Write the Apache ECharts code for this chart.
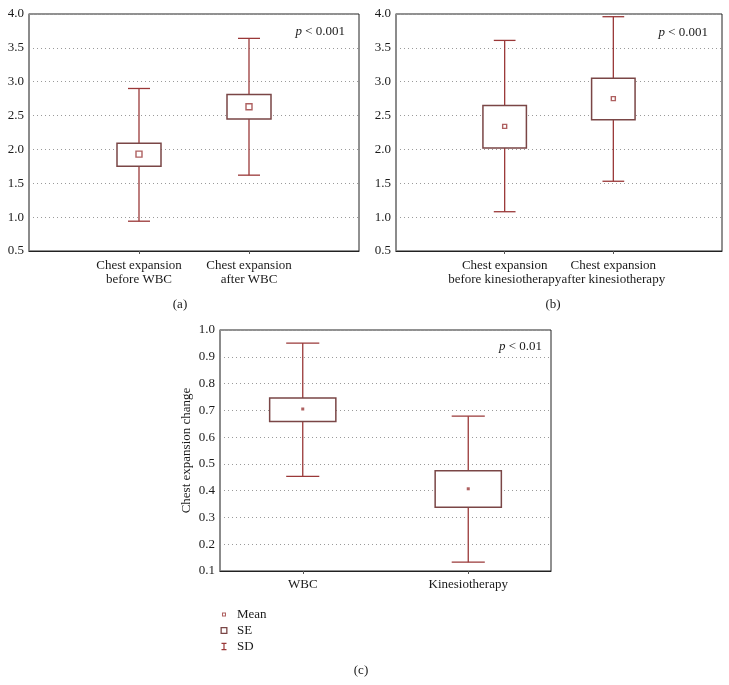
<!DOCTYPE html>
<html>
<head>
<meta charset="utf-8">
<script src="https://cdn.jsdelivr.net/npm/echarts@6/dist/echarts.min.js"></script>
<style>
html,body{margin:0;padding:0;background:#fff;}
#chart{width:729px;height:685px;}
</style>
</head>
<body>
<div id="chart"></div>
<script>
// ---- Data ----
const catsA = ['Chest expansion\nbefore WBC', 'Chest expansion\nafter WBC'];
const meanA = [1.93, 2.63];
const seLowA = [1.75, 2.45];
const seHighA = [2.09, 2.81];
const sdLowA = [0.94, 1.62];
const sdHighA = [2.90, 3.64];

const catsB = ['Chest expansion\nbefore kinesiotherapy', 'Chest expansion\nafter kinesiotherapy'];
const meanB = [2.34, 2.75];
const seLowB = [2.02, 2.44];
const seHighB = [2.65, 3.05];
const sdLowB = [1.08, 1.53];
const sdHighB = [3.61, 3.96];

const catsC = ['WBC', 'Kinesiotherapy'];
const meanC = [0.705, 0.407];
const seLowC = [0.658, 0.338];
const seHighC = [0.746, 0.474];
const sdLowC = [0.453, 0.133];
const sdHighC = [0.951, 0.678];

const yTicksAB = [0.5, 1.0, 1.5, 2.0, 2.5, 3.0, 3.5, 4.0];
const yTicksC = [0.1, 0.2, 0.3, 0.4, 0.5, 0.6, 0.7, 0.8, 0.9, 1.0];

const pTexts = ['p < 0.001', 'p < 0.001', 'p < 0.01'];
const panelLabels = ['(a)', '(b)', '(c)'];
const yNameC = 'Chest expansion change';
const legendNames = ['Mean', 'SE', 'SD'];

// ---- Styles ----
const FONT = '"Liberation Serif", "DejaVu Serif", serif';
const WHISK = '#9a3838';
const BOXC = '#7a4646';
const TXT = '#1a1a1a';

function zip(cats, a, b) { return cats.map((c, i) => [c, a[i], b[i]]); }

function renderSD(params, api) {
  const lo = api.coord([api.value(0), api.value(1)]);
  const hi = api.coord([api.value(0), api.value(2)]);
  const w = api.size([1, 0])[0] * 0.1;
  const st = { stroke: WHISK, lineWidth: 1.3 };
  return { type: 'group', children: [
    { type: 'line', shape: { x1: lo[0], y1: lo[1], x2: hi[0], y2: hi[1] }, style: st },
    { type: 'line', shape: { x1: lo[0] - w, y1: lo[1], x2: lo[0] + w, y2: lo[1] }, style: st },
    { type: 'line', shape: { x1: hi[0] - w, y1: hi[1], x2: hi[0] + w, y2: hi[1] }, style: st }
  ]};
}
function renderSE(params, api) {
  const lo = api.coord([api.value(0), api.value(1)]);
  const hi = api.coord([api.value(0), api.value(2)]);
  const w = api.size([1, 0])[0] * 0.2;
  return { type: 'rect', shape: { x: lo[0] - w, y: hi[1], width: 2 * w, height: lo[1] - hi[1] },
    style: { fill: '#fff', stroke: BOXC, lineWidth: 1.5 } };
}

const grids = [
  { left: 29, top: 14, width: 330, height: 237 },
  { left: 396, top: 14, width: 326, height: 237 },
  { left: 220, top: 330, width: 331, height: 241 }
];

function xAxis(i, data, boundaryGap, margin, lh) {
  const tickFn = (idx, val) => val !== '';
  return {
    type: 'category', gridIndex: i, data: data, boundaryGap: boundaryGap,
    axisLine: { lineStyle: { color: '#222', width: 1 } },
    axisTick: { show: true, length: 3, interval: boundaryGap ? 0 : tickFn, alignWithLabel: true, lineStyle: { color: '#555' } },
    axisLabel: { interval: boundaryGap ? 0 : tickFn, margin: margin, fontFamily: FONT, fontSize: 13, color: TXT, lineHeight: lh },
    splitLine: { show: false }
  };
}
function yAxis(i, ticks, extra) {
  return Object.assign({
    type: 'value', gridIndex: i, min: ticks[0], max: ticks[ticks.length - 1],
    interval: Math.round((ticks[1] - ticks[0]) * 100) / 100,
    axisLine: { show: true, lineStyle: { color: '#8a8a8a', width: 1.5 } },
    axisTick: { show: false },
    axisLabel: { fontFamily: FONT, fontSize: 13, color: TXT, margin: 5, formatter: v => v.toFixed(1) },
    splitLine: { show: true, lineStyle: { color: '#9a9a9a', type: [1, 3], width: 1 } }
  }, extra || {});
}

const panels = [
  { cats: catsA, mean: meanA, seL: seLowA, seH: seHighA, sdL: sdLowA, sdH: sdHighA, msize: 6 },
  { cats: catsB, mean: meanB, seL: seLowB, seH: seHighB, sdL: sdLowB, sdH: sdHighB, msize: 4 },
  { cats: catsC, mean: meanC, seL: seLowC, seH: seHighC, sdL: sdLowC, sdH: sdHighC, msize: 3 }
];

const series = [];
panels.forEach((p, i) => {
  series.push({ name: 'SD', type: 'custom', xAxisIndex: i, yAxisIndex: i, renderItem: renderSD,
    data: zip(p.cats, p.sdL, p.sdH), encode: { x: 0, y: [1, 2] }, z: 2, silent: true });
  series.push({ name: 'SE', type: 'custom', xAxisIndex: i, yAxisIndex: i, renderItem: renderSE,
    data: zip(p.cats, p.seL, p.seH), encode: { x: 0, y: [1, 2] }, z: 3, silent: true });
  series.push({ name: 'Mean', type: 'scatter', xAxisIndex: i, yAxisIndex: i, symbol: 'rect',
    symbolSize: p.msize, z: 4, silent: true,
    itemStyle: i === 2 ? { color: WHISK } : { color: '#fff', borderColor: WHISK, borderWidth: 1.4 },
    data: p.cats.map((c, k) => [c, p.mean[k]]) });
});

const pPos = [[345, 32], [708, 33], [542, 347]];
const labPos = [[180, 305], [553, 305], [361, 671]];
const graphics = [];
pTexts.forEach((t, i) => {
  const parts = t.split(' ');
  graphics.push({ type: 'text', x: pPos[i][0], y: pPos[i][1],
    style: { text: '{i|' + parts[0] + '} ' + parts.slice(1).join(' '), align: 'right', verticalAlign: 'middle',
      font: '13px ' + FONT, fill: TXT, rich: { i: { fontStyle: 'italic', fontFamily: FONT, fontSize: 13, fill: TXT } } } });
});
panelLabels.forEach((t, i) => {
  graphics.push({ type: 'text', x: labPos[i][0], y: labPos[i][1],
    style: { text: t, align: 'center', verticalAlign: 'middle', font: '13px ' + FONT, fill: TXT } });
});

// icons drawn in a 12x8 box (tiny corner specks fix the box), centred at x=6
const iconMean = 'path://M0,0h0.01v0.01h-0.01z M4,2h4v4h-4z M5,3v2h2v-2z M12,8h0.01v0.01h-0.01z';
const iconSE = 'path://M0,0h0.01v0.01h-0.01z M2.5,0.5h7v7h-7z M3.8,1.8v4.4h4.4v-4.4z M12,8h0.01v0.01h-0.01z';
const iconSD = 'path://M0,0h0.01v0.01h-0.01z M3.5,0.3h5v1.2h-1.9v5h1.9v1.2h-5v-1.2h1.9v-5h-1.9z M12,8h0.01v0.01h-0.01z';

const option = {
  animation: false,
  backgroundColor: '#fff',
  grid: grids.map(g => Object.assign({ show: true, borderColor: '#222', borderWidth: 1, backgroundColor: 'transparent' }, g)),
  xAxis: [
    xAxis(0, [''].concat(catsA, ['']), false, 8, 14),
    xAxis(1, [''].concat(catsB, ['']), false, 8, 14),
    xAxis(2, catsC, true, 7, 14)
  ],
  yAxis: [
    yAxis(0, yTicksAB),
    yAxis(1, yTicksAB),
    yAxis(2, yTicksC, { name: yNameC, nameLocation: 'middle', nameGap: 27, nameRotate: 90,
      nameTextStyle: { fontFamily: FONT, fontSize: 13, color: TXT } })
  ],
  legend: {
    orient: 'vertical', left: 213, top: 603, itemWidth: 12, itemHeight: 8, itemGap: 3,
    textStyle: { fontFamily: FONT, fontSize: 13, color: TXT, padding: [0, 0, 0, 2] },
    itemStyle: { color: WHISK, borderWidth: 0 },
    selectedMode: false,
    data: [
      { name: 'Mean', icon: iconMean },
      { name: 'SE', icon: iconSE, itemStyle: { color: BOXC, borderWidth: 0 } },
      { name: 'SD', icon: iconSD }
    ]
  },
  graphic: graphics,
  series: series
};

const chart = echarts.init(document.getElementById('chart'), null, { renderer: 'canvas' });
chart.setOption(option);
</script>
</body>
</html>
